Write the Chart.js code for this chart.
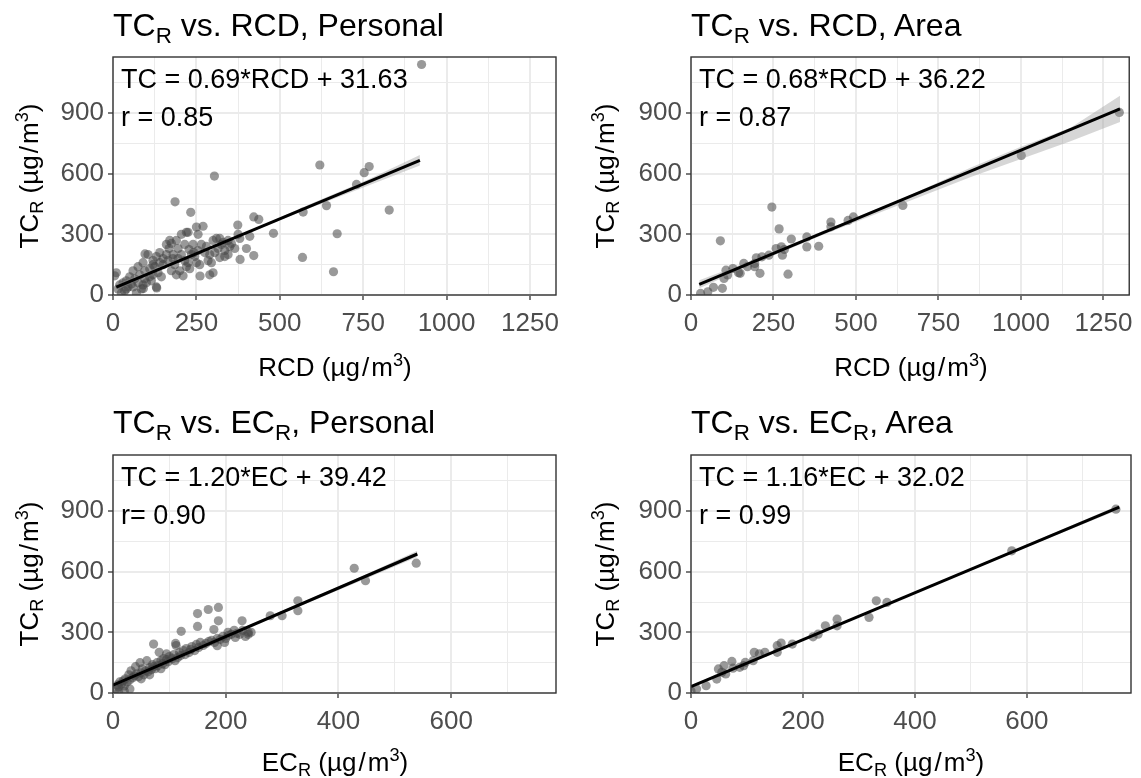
<!DOCTYPE html>
<html><head><meta charset="utf-8">
<script src="https://cdn.jsdelivr.net/npm/chart.js@4.4.1/dist/chart.umd.min.js"></script>
<style>
html,body{margin:0;padding:0;background:#fff;}
#wrap{position:relative;width:1141px;height:778px;overflow:hidden;font-family:"Liberation Sans",Arial,sans-serif;color:#000;}
canvas{position:absolute;}
.t{position:absolute;white-space:nowrap;line-height:1;}
.title{font-size:32px;}
.ann{font-size:27px;}
.xt{font-size:26px;transform:translateX(-50%);}
.yt{font-size:26px;transform:translate(-50%,-50%) rotate(-90deg);}
sub{font-size:70%;vertical-align:baseline;position:relative;top:0.3em;line-height:0;}
sup{font-size:70%;vertical-align:baseline;position:relative;top:-0.55em;line-height:0;}
.sl{margin:0 0.08em;}
</style></head>
<body><div id="wrap">
<canvas id="c1" width="570" height="390" style="left:0;top:0"></canvas>
<canvas id="c2" width="571" height="390" style="left:570px;top:0"></canvas>
<canvas id="c3" width="570" height="388" style="left:0;top:390px"></canvas>
<canvas id="c4" width="571" height="388" style="left:570px;top:390px"></canvas>

<div class="t title" style="left:113px;top:9px">TC<sub>R</sub> vs. RCD, Personal</div>
<div class="t title" style="left:691px;top:9px">TC<sub>R</sub> vs. RCD, Area</div>
<div class="t title" style="left:113px;top:406px">TC<sub>R</sub> vs. EC<sub>R</sub>, Personal</div>
<div class="t title" style="left:691px;top:406px">TC<sub>R</sub> vs. EC<sub>R</sub>, Area</div>

<div class="t ann" style="left:121px;top:66px">TC = 0.69*RCD + 31.63</div>
<div class="t ann" style="left:121px;top:104px">r = 0.85</div>
<div class="t ann" style="left:699px;top:66px">TC = 0.68*RCD + 36.22</div>
<div class="t ann" style="left:699px;top:104px">r = 0.87</div>
<div class="t ann" style="left:121px;top:464px">TC = 1.20*EC + 39.42</div>
<div class="t ann" style="left:121px;top:502px">r= 0.90</div>
<div class="t ann" style="left:699px;top:464px">TC = 1.16*EC + 32.02</div>
<div class="t ann" style="left:699px;top:502px">r = 0.99</div>

<div class="t xt" style="left:335px;top:354px">RCD (µg<span class="sl">/</span>m<sup>3</sup>)</div>
<div class="t xt" style="left:911px;top:354px">RCD (µg<span class="sl">/</span>m<sup>3</sup>)</div>
<div class="t xt" style="left:335px;top:749px">EC<sub>R</sub> (µg<span class="sl">/</span>m<sup>3</sup>)</div>
<div class="t xt" style="left:911px;top:749px">EC<sub>R</sub> (µg<span class="sl">/</span>m<sup>3</sup>)</div>

<div class="t yt" style="left:29px;top:176px">TC<sub>R</sub> (µg<span class="sl">/</span>m<sup>3</sup>)</div>
<div class="t yt" style="left:605px;top:176px">TC<sub>R</sub> (µg<span class="sl">/</span>m<sup>3</sup>)</div>
<div class="t yt" style="left:29px;top:574px">TC<sub>R</sub> (µg<span class="sl">/</span>m<sup>3</sup>)</div>
<div class="t yt" style="left:605px;top:574px">TC<sub>R</sub> (µg<span class="sl">/</span>m<sup>3</sup>)</div>
</div>
<script>
// ---------- tick labels ----------
const rcdTicksMajor = [0, 250, 500, 750, 1000, 1250];
const rcdTicksMinor = [125, 375, 625, 875, 1125];
const ecTicksMajor = [0, 200, 400, 600];
const ecTicksMinor = [100, 300, 500, 700];
const tcTicksMajor = [0, 300, 600, 900];
const tcTicksMinor = [150, 450, 750, 1050];

// ---------- Panel 1: TC_R vs RCD, Personal ----------
const rcdPersonalX = [925,620,768,753,730,828,640,672,568,661,304,186,233,422,437,374,481,422,381,261,290,380,400,410,350,345,330,320,300,270,255,225,205,190,175,168,160,150,140,120,105,90,75,60,50,40,30,20,10,5,15,25,35,45,55,65,80,95,110,125,135,145,130,115,100,85,70,60,40,150,165,175,185,195,205,215,225,235,245,255,265,275,285,295,305,315,325,335,345,355,365,375,200,210,190,180,160,170,240,250,260,280,290,310,320,335,300,230,220,140,130,120,110,95,90,75,180,195,215,228,242,120,131,91,250,220,96,570];
const tcRcdPersonalY = [1140,643,635,605,547,420,442,303,186,115,588,461,409,386,374,346,305,195,176,94,100,280,230,290,240,200,260,280,270,340,300,310,300,270,255,230,200,180,160,170,200,160,140,120,90,70,60,50,110,95,30,10,20,40,55,80,100,120,130,140,110,90,40,70,60,30,10,40,30,150,170,120,150,180,200,170,160,200,190,220,250,210,170,160,210,230,250,220,270,255,230,300,120,95,100,200,250,270,250,160,150,240,200,280,185,190,110,130,140,210,190,100,90,80,50,60,180,230,250,225,210,150,35,32,336,310,203,410];
const fitRcdPersonalX = [10, 920];
const fitRcdPersonalY = [38.5, 666];
const bandRcdPersonalX = [10, 150, 300, 450, 600, 760, 920];
const bandRcdPersonalLo = [24, 131, 233, 336, 436, 538, 640];
const bandRcdPersonalHi = [53, 148, 243, 346, 456, 568, 692];

// ---------- Panel 2: TC_R vs RCD, Area ----------
const rcdAreaX = [1298,1001,642,492,476,424,424,351,351,387,245,267,304,89,294,277,283,258,274,236,215,198,193,209,171,160,149,127,111,100,106,95,68,51,29,193,144];
const tcRcdAreaY = [903,690,443,386,369,361,337,287,238,241,435,327,277,268,103,197,225,230,238,197,189,184,140,107,140,156,107,131,99,82,123,33,38,16,8,156,110];
const fitRcdAreaX = [25, 1300];
const fitRcdAreaY = [53, 920];
const bandRcdAreaX = [25, 200, 400, 650, 850, 1000, 1150, 1300];
const bandRcdAreaLo = [33, 161, 298, 457, 585, 672, 760, 855];
const bandRcdAreaHi = [73, 181, 316, 483, 632, 733, 827, 985];

// ---------- Panel 3: TC_R vs EC_R, Personal ----------
const ecPersonalX = [538,428,448,328,328,300,279,229,240,187,169,150,187,179,150,121,72,111,204,217,198,185,82,95,5,8,10,12,15,18,20,22,25,28,30,32,35,38,40,42,45,48,50,52,55,58,60,62,65,68,70,72,75,78,80,85,88,90,92,95,98,100,105,108,110,112,115,118,120,125,128,130,135,138,140,145,148,152,155,160,165,170,175,180,185,190,195,200,205,210,215,220,225,230,235,240,245,30,20,10,50,65,85];
const tcEcPersonalY = [642,617,555,456,407,382,382,357,300,423,413,393,357,314,329,305,242,245,300,275,250,234,201,193,20,40,30,55,45,60,35,70,55,90,65,110,75,85,130,95,80,150,100,120,90,110,160,105,125,115,140,130,120,150,135,160,145,170,140,165,155,180,170,190,160,235,175,200,185,210,190,220,200,215,230,210,240,225,250,235,245,255,260,250,270,265,280,270,285,290,310,295,290,310,280,290,300,20,10,5,70,90,120];
const fitEcPersonalX = [0, 540];
const fitEcPersonalY = [39.4, 687.4];
const bandEcPersonalX = [0, 150, 300, 420, 540];
const bandEcPersonalLo = [31, 216, 393, 532, 672];
const bandEcPersonalHi = [48, 226, 407, 550, 703];

// ---------- Panel 4: TC_R vs EC_R, Area ----------
const ecAreaX = [759,573,331,350,318,261,261,240,227,218,181,161,154,154,113,122,111,97,87,73,75,59,49,46,62,27,10,55,94,132,0];
const tcEcAreaY = [909,703,456,448,374,365,332,332,291,278,242,247,234,201,201,193,160,151,127,156,123,135,119,69,94,36,20,102,135,201,10];
const fitEcAreaX = [0, 765];
const fitEcAreaY = [32, 919];
const bandEcAreaX = [0, 200, 400, 600, 765];
const bandEcAreaLo = [26, 260, 492, 722, 908];
const bandEcAreaHi = [38, 268, 500, 734, 930];

// ---------- build ----------
function pairs(xs, ys) { return xs.map((x, i) => ({ x: x, y: ys[i] })); }

const borderPlugin = {
  id: 'panelBorder',
  afterDatasetsDraw(chart) {
    const a = chart.chartArea, ctx = chart.ctx;
    ctx.save();
    ctx.strokeStyle = '#333333';
    ctx.lineWidth = 1.4;
    ctx.strokeRect(a.left, a.top, a.right - a.left, a.bottom - a.top);
    ctx.restore();
  }
};

function axis(major, minor, min, max, fitFn, pad) {
  const all = major.concat(minor).sort((a, b) => a - b);
  const isMajor = v => major.indexOf(v) >= 0;
  return {
    type: 'linear', min: min, max: max,
    afterBuildTicks: s => { s.ticks = all.map(v => ({ value: v })); },
    afterFit: fitFn,
    border: { display: false },
    grid: {
      color: '#EBEBEB',
      lineWidth: c => (c.tick && isMajor(c.tick.value)) ? 2 : 1,
      drawTicks: true,
      tickLength: 5,
      tickColor: c => (c.tick && isMajor(c.tick.value)) ? '#333333' : 'rgba(0,0,0,0)',
      tickWidth: 1.3
    },
    ticks: {
      autoSkip: false, maxRotation: 0, minRotation: 0,
      color: '#4D4D4D',
      padding: pad,
      font: { family: 'Liberation Sans', size: 26 },
      callback: v => isMajor(v) ? String(v) : ''
    }
  };
}

function makePanel(id, box, px, py, fx, fy, bx, blo, bhi, xMaj, xMin, xMax) {
  const band = 'rgba(153,153,153,0.4)';
  new Chart(document.getElementById(id), {
    type: 'scatter',
    data: {
      datasets: [
        { type: 'line', data: pairs(fx, fy), borderColor: '#000000', borderWidth: 3, pointRadius: 0, fill: false, clip: 0 },
        { type: 'line', data: pairs(bx, bhi), borderColor: 'rgba(0,0,0,0)', borderWidth: 0, pointRadius: 0, fill: '+1', backgroundColor: band, clip: 0 },
        { type: 'line', data: pairs(bx, blo), borderColor: 'rgba(0,0,0,0)', borderWidth: 0, pointRadius: 0, fill: false, clip: 0 },
        { data: pairs(px, py), backgroundColor: 'rgba(70,70,70,0.55)', borderWidth: 0, pointRadius: 4.6, clip: 0 }
      ]
    },
    options: {
      responsive: false, maintainAspectRatio: false, animation: false, events: [],
      layout: { padding: { left: 0, top: box.aT, right: box.w - box.aR, bottom: 0 } },
      plugins: { legend: { display: false }, tooltip: { enabled: false } },
      scales: {
        x: axis(xMaj, xMin, 0, xMax, s => { s.height = box.h - box.aB; }, 8),
        y: axis(tcTicksMajor, tcTicksMinor, 0, 1177, s => { s.width = box.aL; }, 4)
      }
    },
    plugins: [borderPlugin]
  });
}

makePanel('c1', { w: 570, h: 390, aL: 113, aR: 556, aT: 57, aB: 295 },
  rcdPersonalX, tcRcdPersonalY, fitRcdPersonalX, fitRcdPersonalY,
  bandRcdPersonalX, bandRcdPersonalLo, bandRcdPersonalHi, rcdTicksMajor, rcdTicksMinor, 1328);
makePanel('c2', { w: 571, h: 390, aL: 121, aR: 561, aT: 57, aB: 295 },
  rcdAreaX, tcRcdAreaY, fitRcdAreaX, fitRcdAreaY,
  bandRcdAreaX, bandRcdAreaLo, bandRcdAreaHi, rcdTicksMajor, rcdTicksMinor, 1328);
makePanel('c3', { w: 570, h: 388, aL: 113, aR: 556, aT: 65, aB: 303 },
  ecPersonalX, tcEcPersonalY, fitEcPersonalX, fitEcPersonalY,
  bandEcPersonalX, bandEcPersonalLo, bandEcPersonalHi, ecTicksMajor, ecTicksMinor, 786);
makePanel('c4', { w: 571, h: 388, aL: 121, aR: 561, aT: 65, aB: 303 },
  ecAreaX, tcEcAreaY, fitEcAreaX, fitEcAreaY,
  bandEcAreaX, bandEcAreaLo, bandEcAreaHi, ecTicksMajor, ecTicksMinor, 786);
</script>
</body></html>
